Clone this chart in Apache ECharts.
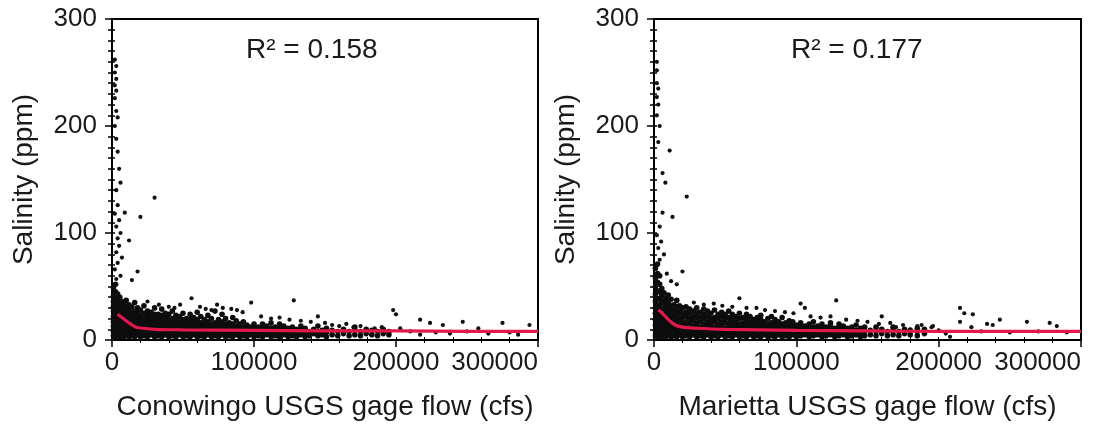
<!DOCTYPE html>
<html>
<head>
<meta charset="utf-8">
<script src="https://cdn.jsdelivr.net/npm/echarts@6/dist/echarts.min.js"></script>
<style>
html,body{margin:0;padding:0;background:#fff;}
#chart{width:1106px;height:429px;}
</style>
</head>
<body>
<div id="chart"></div>
<script>
// ---- data (flow in thousands of cfs, salinity in ppm) ----
const panelNames = ['Conowingo USGS gage flow (cfs)', 'Marietta USGS gage flow (cfs)'];
const yName = 'Salinity (ppm)';
const r2Labels = ['R\u00B2 = 0.158', 'R\u00B2 = 0.177'];
const xTicks = [0, 100000, 200000, 300000];
const yTicks = [0, 100, 200, 300];

// dense cloud: [flow, [salinity values...]]
const conoCols = [
  [1,[4,8,13,17,22,27,31,36,41,49]],
  [2.5,[3,7,11,16,20,25,29,34,39,45,52]],
  [4,[5,9,14,18,23,27,32,37,43]],
  [5.5,[3,8,12,16,21,25,30,35,40]],
  [7,[4,8,13,17,22,26,31,36]],
  [8.5,[3,7,11,15,20,24,29,33]],
  [10,[5,9,13,17,21,26,30,37]],
  [12,[3,7,12,16,20,24,28,33]],
  [14,[4,8,12,16,21,25,31]],
  [16,[3,7,11,15,19,23,27,35]],
  [18,[5,9,13,17,21,25,30]],
  [20,[3,7,11,15,19,23,28]],
  [22.5,[4,8,12,16,20,25,32]],
  [25,[3,7,11,15,19,23,27]],
  [27.5,[5,9,13,17,21,26]],
  [30,[3,7,11,15,19,24,30]],
  [32.5,[4,8,12,16,20,24]],
  [35,[3,7,11,15,19,23,29]],
  [37.5,[5,9,13,17,21,25]],
  [40,[3,7,11,15,19,24]],
  [42.5,[4,8,12,16,20,27]],
  [45,[3,7,11,15,19,23]],
  [47.5,[5,9,13,17,22]],
  [50,[3,7,11,15,19,25]],
  [52.5,[4,8,12,16,20]],
  [55,[3,7,11,15,19,24]],
  [57.5,[5,9,13,17,21]],
  [60,[3,7,11,15,19,26]],
  [62.5,[4,8,12,16,22]],
  [65,[3,7,11,15,19]],
  [67.5,[5,9,13,17,23]],
  [70,[3,7,11,15,20]],
  [72.5,[4,8,12,16,27]],
  [75,[3,7,11,15,19]],
  [77.5,[5,9,13,17,24]],
  [80,[3,7,11,15,20]],
  [82.5,[4,8,12,16]],
  [85,[3,7,11,15,21]],
  [87.5,[5,9,13,18]],
  [90,[3,7,11,15]],
  [92.5,[4,8,12,17]],
  [95,[3,7,11,14]],
  [97.5,[5,9,12]],
  [100,[3,7,11,15]],
  [103,[4,8,12]],
  [106,[3,7,11,15]],
  [109,[5,9,13]],
  [112,[3,7,11,16]],
  [115,[4,8,12]],
  [118,[3,7,11,15]],
  [121,[5,9,13]],
  [124,[3,7,11]],
  [127,[4,8,12]],
  [130,[3,7,10]],
  [133,[5,9,13]],
  [136,[3,7,11]],
  [139,[4,8]],
  [142,[6,10]],
  [145,[4,8,13]],
  [148,[5,9]],
  [151,[3,7,11]],
  [155,[5,9]],
  [159,[4,8]],
  [163,[6,10]],
  [167,[4,8]],
  [171,[5,9,12]],
  [175,[4,8]],
  [179,[6,10]],
  [183,[5,9]],
  [187,[4,8]],
  [191,[6,10]],
  [195,[5,8]]
];
const conoOut = [
  [2,262],[3,256],[2,250],[3,244],[2,238],[3,233],[2,226],[3,214],[4,208],[2,200],
  [3,188],[4,176],[5,160],[6,147],[3,140],[4,126],[2,118],[9,119],[5,112],[3,106],
  [6,100],[4,95],[12,93],[5,88],[3,82],[7,77],[4,72],[2,66],[18,64],[6,60],[3,57],
  [20,115],[30,133],[14,56],[56,39],[98,35],[128,37],[145,22],[160,13],[170,12],[185,11],
  [198,28],[200,24],[203,11],[210,8],[217,19],[217,5],[224,16],[228,7],[233,14],[238,6],
  [247,17],[250,8],[258,11],[265,6],[275,16],[280,7],[286,5],[294,14],
  [25,36],[33,33],[40,31],[44,30],[48,33],[62,31],[66,29],[70,28],[74,33],[78,30],
  [84,29],[88,28],[92,26],[105,22],[112,20],[118,21],[125,19],[133,18],[140,17],[150,16],
  [155,14],[165,15],[175,13],[190,12]
];
const conoFit = [[4,24],[6,22],[9,19],[13,15],[17,12],[22,11],[30,10],[50,9.5],[100,9],[150,8.5],[200,8.5],[250,8],[300,8]];

const mariCols = [
  [1,[4,9,14,19,25,30,36,43,50,58,67]],
  [2.5,[3,7,12,17,22,28,33,39,46,54,62,71]],
  [4,[5,10,15,21,26,31,38,45,52,60]],
  [5.5,[3,8,13,18,23,29,35,41,48]],
  [7,[4,9,14,19,24,30,36,44]],
  [8.5,[3,7,12,17,22,27,33,39]],
  [10,[5,9,14,19,24,29,35,42]],
  [12,[3,8,12,17,22,27,32,38]],
  [14,[4,9,13,18,23,28,33]],
  [16,[3,7,12,16,21,26,31,37]],
  [18,[5,9,13,18,22,27,32]],
  [20,[3,8,12,16,21,25,30]],
  [22.5,[4,8,13,17,22,26,31]],
  [25,[3,7,11,16,20,25,29]],
  [27.5,[5,9,13,18,22,27]],
  [30,[3,7,12,16,21,25,30]],
  [32.5,[4,8,12,17,21,26]],
  [35,[3,7,11,15,20,24,29]],
  [37.5,[5,9,13,17,22,27]],
  [40,[3,7,12,16,20,25]],
  [42.5,[4,8,12,17,21,28]],
  [45,[3,7,11,15,20,24]],
  [47.5,[5,9,13,17,22,26]],
  [50,[3,7,11,16,20,24]],
  [52.5,[4,8,12,16,21,27]],
  [55,[3,7,11,15,19,24]],
  [57.5,[5,9,13,17,22]],
  [60,[3,7,11,15,20,25]],
  [62.5,[4,8,12,16,21]],
  [65,[3,7,11,15,19,24]],
  [67.5,[5,9,13,17,22]],
  [70,[3,7,11,15,19]],
  [72.5,[4,8,12,16,21]],
  [75,[3,7,11,15,19,23]],
  [77.5,[5,9,13,17]],
  [80,[3,7,11,15,20]],
  [82.5,[4,8,12,16,22]],
  [85,[3,7,11,15,19]],
  [87.5,[5,9,13,17]],
  [90,[3,7,11,15,21]],
  [92.5,[4,8,12,16]],
  [95,[3,7,11,15,18]],
  [97.5,[5,9,13,17]],
  [100,[3,7,11,14]],
  [103,[4,8,12,16]],
  [106,[5,9,13]],
  [109,[3,7,11,15]],
  [112,[4,8,12,17]],
  [115,[5,9,13]],
  [118,[3,7,11,15]],
  [121,[4,8,12]],
  [124,[5,9,13,16]],
  [127,[3,7,11]],
  [130,[4,8,12,15]],
  [133,[5,9,13]],
  [136,[3,7,11]],
  [139,[4,8,12]],
  [142,[5,9,14]],
  [145,[3,7,11]],
  [148,[4,8,12]],
  [152,[5,9]],
  [156,[4,8,12]],
  [160,[6,10]],
  [164,[4,8]],
  [168,[5,9,12]],
  [172,[4,8]],
  [176,[6,10]],
  [180,[5,9]],
  [185,[4,8,11]],
  [190,[6,10]]
];
const mariOut = [
  [2,260],[2,252],[2,240],[3,235],[2,227],[3,220],[2,210],[4,200],[3,185],[11,177],
  [6,156],[8,147],[23,134],[6,119],[13,115],[4,106],[2,98],[5,92],[3,86],[7,80],
  [4,75],[2,70],[20,64],[9,62],[12,55],[16,52],[60,39],[103,34],[106,30],[128,37],
  [160,22],[170,12],[180,10],[188,14],[196,13],[200,9],[205,6],[208,3],[215,30],[218,25],
  [224,24],[215,17],[223,12],[230,8],[234,15],[238,14],[243,19],[250,7],[262,17],[270,8],
  [278,16],[283,13],[290,7],
  [28,35],[35,33],[42,34],[48,32],[55,31],[65,30],[72,30],[78,28],[85,27],[92,26],
  [98,25],[110,22],[117,21],[124,22],[135,19],[143,18],[150,17],[158,15],[166,16],[175,14],
  [185,13],[195,12]
];
const mariFit = [[3,28],[5,26],[8,22],[11,18],[15,14],[20,12],[30,11],[50,10],[100,9],[150,8.5],[200,8],[250,8],[300,8]];

// ---- build ----
function expand(cols) {
  const pts = [];
  cols.forEach(c => c[1].forEach(v => pts.push([c[0] * 1000, v])));
  return pts;
}
function toCfs(arr) { return arr.map(p => [p[0] * 1000, p[1]]); }

const FONT = 'Liberation Sans';
const TXT = '#1a1a1a';
const grids = [
  {left: 112, top: 19, width: 426, height: 321, show: true, borderColor: '#000', borderWidth: 2, backgroundColor: 'transparent'},
  {left: 654, top: 19, width: 427, height: 321, show: true, borderColor: '#000', borderWidth: 2, backgroundColor: 'transparent'}
];
const xMin = xTicks[0], xMax = xTicks[xTicks.length - 1], xInt = xTicks[1] - xTicks[0];
const yMin = yTicks[0], yMax = yTicks[yTicks.length - 1], yInt = yTicks[1] - yTicks[0];

const xAxes = [], yAxes = [];
[0, 1].forEach(g => {
  xAxes.push({
    type: 'value', gridIndex: g, min: xMin, max: xMax, interval: xInt,
    name: panelNames[g], nameLocation: 'middle', nameGap: 53,
    nameTextStyle: {fontFamily: FONT, fontSize: 28, color: TXT},
    axisLine: {show: true, lineStyle: {color: '#000', width: 2}},
    axisTick: {show: true, inside: false, length: 7, lineStyle: {color: '#000', width: 1.5}},
    minorTick: {show: true, splitNumber: 5, length: 3, lineStyle: {color: '#000', width: 1}},
    splitLine: {show: false}, minorSplitLine: {show: false},
    axisLabel: {fontFamily: FONT, fontSize: 26, color: TXT, margin: 10, alignMaxLabel: 'right',
      formatter: v => String(v)}
  });
  xAxes.push({
    type: 'value', gridIndex: g, min: xMin, max: xMax, interval: xInt, position: 'bottom',
    axisLine: {show: false}, axisLabel: {show: false}, splitLine: {show: false},
    axisTick: {show: true, inside: true, length: 3, lineStyle: {color: '#000', width: 1}},
    minorTick: {show: true, splitNumber: 5, length: 3, lineStyle: {color: '#000', width: 1}}
  });
  yAxes.push({
    type: 'value', gridIndex: g, min: yMin, max: yMax, interval: yInt,
    name: yName, nameLocation: 'middle', nameGap: 74,
    nameTextStyle: {fontFamily: FONT, fontSize: 28, color: TXT},
    axisLine: {show: true, lineStyle: {color: '#000', width: 2}},
    axisTick: {show: true, inside: false, length: 7, lineStyle: {color: '#000', width: 1.5}},
    minorTick: {show: true, splitNumber: 10, length: 4, lineStyle: {color: '#000', width: 1.5}},
    splitLine: {show: false}, minorSplitLine: {show: false},
    axisLabel: {fontFamily: FONT, fontSize: 26, color: TXT, margin: 15, formatter: v => String(v)}
  });
  yAxes.push({
    type: 'value', gridIndex: g, min: yMin, max: yMax, interval: yInt, position: 'left',
    axisLine: {show: false}, axisLabel: {show: false}, splitLine: {show: false},
    axisTick: {show: true, inside: true, length: 3, lineStyle: {color: '#000', width: 1.5}},
    minorTick: {show: true, splitNumber: 10, length: 3, lineStyle: {color: '#000', width: 1.5}}
  });
});

const datasets = [
  {cloud: expand(conoCols), out: toCfs(conoOut), fit: toCfs(conoFit)},
  {cloud: expand(mariCols), out: toCfs(mariOut), fit: toCfs(mariFit)}
];
const series = [];
datasets.forEach((d, g) => {
  series.push({
    type: 'scatter', xAxisIndex: g * 2, yAxisIndex: g * 2, data: d.cloud,
    symbol: 'circle', symbolSize: 5.6, itemStyle: {color: '#0d0d0d', opacity: 1},
    silent: true, z: 2, clip: true
  });
  series.push({
    type: 'scatter', xAxisIndex: g * 2, yAxisIndex: g * 2, data: d.out,
    symbol: 'circle', symbolSize: 4.2, itemStyle: {color: '#111', opacity: 1},
    silent: true, z: 2, clip: true
  });
  series.push({
    type: 'line', xAxisIndex: g * 2, yAxisIndex: g * 2, data: d.fit, smooth: 0.4,
    showSymbol: false, symbol: 'none', lineStyle: {color: '#e3184c', width: 3.2},
    silent: true, z: 5
  });
});

const chart = echarts.init(document.getElementById('chart'), null, {renderer: 'canvas'});
chart.setOption({
  animation: false,
  backgroundColor: '#fff',
  grid: grids,
  xAxis: xAxes,
  yAxis: yAxes,
  series: series,
  graphic: [
    {type: 'text', left: 246, top: 36, style: {text: r2Labels[0], font: '28px "Liberation Sans"', fill: TXT}},
    {type: 'text', left: 791, top: 36, style: {text: r2Labels[1], font: '28px "Liberation Sans"', fill: TXT}}
  ]
});
</script>
</body>
</html>
